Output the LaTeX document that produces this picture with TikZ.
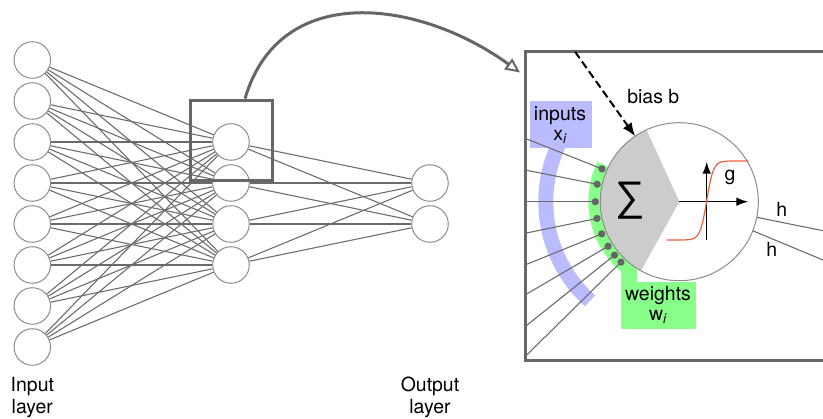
\documentclass[tikz,border=0pt]{standalone}
\usepackage{fontspec}
\setmainfont{TeX Gyre Heros}
\newfontfamily\symfont{Liberation Sans}
\usetikzlibrary{arrows.meta,calc}
\definecolor{wirec}{HTML}{6A6A6A}
\definecolor{rimc}{HTML}{8C8C8C}
\definecolor{framec}{HTML}{666666}
\definecolor{inblue}{HTML}{BBBBFF}
\definecolor{wgreen}{HTML}{88FF88}
\definecolor{sectorc}{HTML}{CCCCCC}
\definecolor{sigmc}{HTML}{E8643C}
\definecolor{dotc}{HTML}{666666}
\begin{document}
\begin{tikzpicture}[x=0.75pt,y=-0.75pt,
  neuron/.style={circle,draw=rimc,fill=white,line width=0.75pt,minimum size=27.4pt,inner sep=0pt},
  wire/.style={draw=wirec,line width=0.8pt},
  thickframe/.style={draw=framec,line width=2.25pt},
  lbl/.style={font=\fontsize{14.6}{17}\selectfont,inner sep=0pt,anchor=base},
  axis/.style={black,line width=1.1pt,-{Latex[length=9pt,width=6.5pt]}},
  wdot/.style={circle,fill=dotc,inner sep=0pt,minimum size=5.5pt}]
\useasboundingbox (0,0) rectangle (823,418);

% ---------- network ----------
\foreach \k in {1,...,8} \node[neuron] (in\k) at (32.3,{19+41*\k}) {};
\foreach \k in {1,...,4} \node[neuron] (hd\k) at (231,{101+41*\k}) {};
\foreach \k in {1,2} \node[neuron] (out\k) at (430,{142+41*\k}) {};

\foreach \i in {1,...,8} \foreach \j in {1,...,4} \draw[wire] (in\i) -- (hd\j);
\foreach \j in {1,...,4} \foreach \k in {1,2} \draw[wire] (hd\j) -- (out\k);

\node[thickframe,minimum width=61.5pt,minimum height=60.5pt,inner sep=0pt] (zoombox) at (231.7,140.35) {};

\node[lbl] (inA) at (32.3,391.7) {Input};
\node[lbl] (inB) at (32.3,413.5) {layer};
\node[lbl] (outA) at (430,391.7) {Output};
\node[lbl] (outB) at (430,413.5) {layer};

% ---------- magnified neuron ----------
\coordinate (tipend) at (520,72.5);
\draw[framec,line width=2.25pt,-{Triangle[open,length=11pt,width=10pt,line width=1.5pt]}]
  ([xshift=10pt]zoombox.north) .. controls (280,-20) and (420,0) .. (tipend);

\draw[thickframe] (830,51.7) -- (525,51.7) -- (525,360) -- (830,360);

\coordinate (nc) at (679.3,201.7);

% blue band for the inputs
\draw[inblue,line width=11.25pt] (nc) ++(205:133.5) arc[start angle=205,end angle=132,radius=133.5];
% green band for the weights
\draw[wgreen,line width=9pt] (nc) ++(206:85) arc[start angle=206,end angle=124,radius=85];
\fill[wgreen] (621,262) rectangle (637,283);
\fill[wgreen] (621,281.7) rectangle (695.7,329.3);
\fill[inblue] (530,101) rectangle (591.7,148.3);

% input wires ending at the weight dots
\foreach \a [count=\n] in {203,192,180,168.5,157.5,148,140.5,134}
  \coordinate (d\n) at ($(nc)+(\a:84)$);
\foreach \y [count=\n] in {138.3,170,201.7,233.3,265,295,326.7,356.7}
  \coordinate (s\n) at (525,\y);
\foreach \n in {1,...,8} \draw[wire] (s\n) -- (d\n);

% output wires
\coordinate (o1) at ($(nc)+(11.4:79)$);
\coordinate (o2) at ($(nc)+(21.6:79)$);
\coordinate (e1) at (823,230.7);
\coordinate (e2) at (823,260);
\draw[wire] (o1) -- (e1);
\draw[wire] (o2) -- (e2);

% neuron body
\fill[white] (nc) circle[radius=79];
\fill[sectorc] (nc) -- ++(245.5:79) arc[start angle=245.5,end angle=119,radius=79] -- cycle;
\draw[rimc,line width=0.75pt] (nc) circle[radius=79];

\foreach \n in {1,...,8} \node[wdot] (dot\n) at (d\n) {};

% activation plot
\coordinate (xend) at (748.3,201.7);
\coordinate (ybot) at (706.7,240);
\coordinate (ytop) at (706.7,161.7);
\draw[axis] (nc) -- (xend);
\draw[axis] (ybot) -- (ytop);
\draw[sigmc,line width=0.9pt] plot[domain=666.7:748.3,samples=90,smooth]
  (\x,{240-79/(1+exp(min(9,max(-9,-0.3*(\x-706.7)))))});

% bias
\coordinate (biastop) at (575,51.7);
\coordinate (biasend) at ($(nc)+(236:79)$);
\draw[black,line width=1.5pt,dash pattern=on 6pt off 3pt,-{Latex[length=10pt,width=8pt]}] (biastop) -- (biasend);

% labels
\node (sig) at (630,201) {\symfont\fontsize{31}{31}\selectfont ∑};
\node[lbl] (inpt) at (560,120) {inputs};
\node[lbl] (inx) at (560,140) {x\textsubscript{\itshape i}};
\node[lbl] (bias) at (653.3,103.3) {bias b};
\node[lbl] (wt) at (658,300) {weights};
\node[lbl] (wi) at (658,320) {w\textsubscript{\itshape i}};
\node[lbl] (gl) at (730,180) {g};
\node[lbl] (h1) at (781.7,216) {h};
\node[lbl] (h2) at (771.7,256.7) {h};
\end{tikzpicture}
\end{document}
